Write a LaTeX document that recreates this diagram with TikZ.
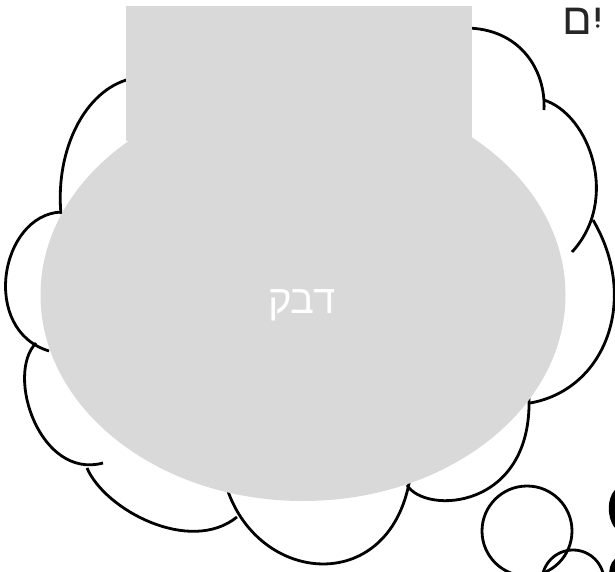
\documentclass[tikz,border=0pt]{standalone}
\usepackage{fontspec}
\newfontfamily\hebfont[Script=Hebrew]{Liberation Sans}
\TeXXeTstate=1
\definecolor{greyfill}{HTML}{D9D9D9}
\tikzset{
  bump/.style={black, line width=2.8pt},
  bubble/.style={black, line width=2.8pt},
  blob/.style={black, line width=6pt},
}
\begin{document}
\begin{tikzpicture}[x=1pt,y=-1pt]
\useasboundingbox (0,0) rectangle (615,572);
% cloud outline
\draw[bump] (130,79) .. controls (85,90) and (55,150) .. (61,214);
\draw[bump] (61,212) .. controls (0,215) and (-20,330) .. (49,351);
\draw[bump] (36,343) .. controls (5,375) and (40,480) .. (103,463);
\draw[bump] (87,468) .. controls (105,510) and (190,555) .. (237,517);
\draw[bump] (224,478) .. controls (250,585) and (390,600) .. (410,478);
\draw[bump] (407,485) .. controls (425,515) and (532,510) .. (529,398);
\draw[bump] (530,403) .. controls (605,390) and (640,300) .. (593,220);
\draw[bump] (544,100) .. controls (590,115) and (620,200) .. (572,252);
\draw[bump] (465,28) .. controls (520,28) and (546,70) .. (544,110);
% grey shapes
\fill[greyfill] (303,295) ellipse [x radius=262.5, y radius=206];
\fill[greyfill] (126,6) rectangle (472,141);
\node[text=white, inner sep=0, anchor=base, font=\hebfont\fontsize{40pt}{46pt}\selectfont] (glue) at (302,313) {\beginR דבק\endR};
\node[text=black!85, inner sep=0, anchor=base west, font=\hebfont\fontsize{44pt}{50pt}\selectfont] (topword) at (562,35) {\beginR יִם\endR};
% small bubbles
\draw[bubble] (527,531) circle[radius=45];
\draw[bubble] (573,581) circle[radius=31];
\draw[blob] (617,492) .. controls (610,500) and (610,516) .. (617,526);
\draw[blob] (617,561) .. controls (613,565) and (612,569) .. (612,578);
\end{tikzpicture}
\end{document}
